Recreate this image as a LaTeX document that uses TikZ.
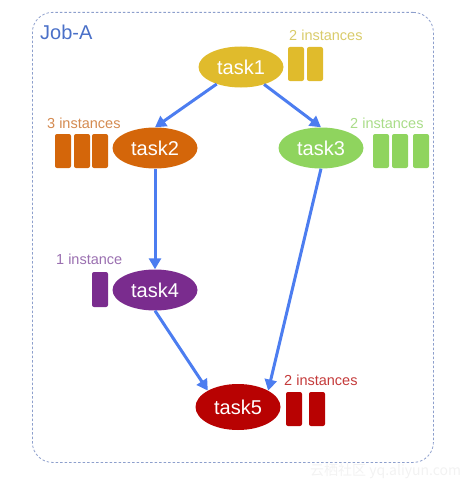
\documentclass[tikz,border=0pt]{standalone}
\usepackage{fontspec}
\setmainfont{Liberation Sans}
\newfontfamily\cjkfont{Noto Sans CJK SC}
\usetikzlibrary{arrows.meta,shapes.geometric}
\definecolor{jobblue}{HTML}{4A70C8}
\definecolor{boxline}{HTML}{8D9FCC}
\definecolor{edgeblue}{HTML}{4C7DF0}
\definecolor{cyel}{HTML}{E0BB2C}
\definecolor{lyel}{HTML}{D9CB6A}
\definecolor{corg}{HTML}{D4660A}
\definecolor{lorg}{HTML}{D48A50}
\definecolor{cgrn}{HTML}{8FD45E}
\definecolor{lgrn}{HTML}{A9DC88}
\definecolor{cpur}{HTML}{7A2C8E}
\definecolor{lpur}{HTML}{9A6FB0}
\definecolor{cred}{HTML}{B80202}
\definecolor{lred}{HTML}{C43A3A}
\tikzset{
  taskbox/.style={ellipse, minimum width=85pt, minimum height=41pt, inner sep=0pt, text=white, font=\fontsize{20}{20}\selectfont},
  inst/.style={rounded corners=2pt, minimum width=16pt, minimum height=34pt, inner sep=0pt},
  instlabel/.style={font=\fontsize{14.5}{14.5}\selectfont, inner sep=0pt},
  edge/.style={draw=edgeblue, line width=3pt, -{Triangle[length=11pt,width=12pt]}}
}
\begin{document}
\begin{tikzpicture}[x=1pt,y=-1pt]
\useasboundingbox (0,0) rectangle (476,487);
\node[draw=boxline, line width=0.8pt, dash pattern=on 2.5pt off 2pt, rounded corners=20pt, minimum width=401pt, minimum height=450pt, anchor=north west, inner sep=0pt] (job) at (32,12) {};
\node[anchor=west, text=jobblue, font=\fontsize{20}{20}\selectfont, inner sep=0pt] (jobA) at (40,32) {Job-A};

\node[taskbox, fill=cyel] (t1) at (241,67) {task1};
\node[taskbox, fill=corg] (t2) at (155,148) {task2};
\node[taskbox, fill=cgrn] (t3) at (321,148) {task3};
\node[taskbox, fill=cpur] (t4) at (155,290) {task4};
\node[taskbox, fill=cred, minimum height=46pt] (t5) at (238,407) {task5};

% instances
\node[inst, fill=cyel] (i1a) at (296,64) {};
\node[inst, fill=cyel] (i1b) at (315,64) {};
\node[instlabel, text=lyel, anchor=west] (l1) at (289,35) {2 instances};

\node[inst, fill=corg] (i2a) at (63,151) {};
\node[inst, fill=corg] (i2b) at (82,151) {};
\node[inst, fill=corg] (i2c) at (100,151) {};
\node[instlabel, text=lorg, anchor=west] (l2) at (47,123) {3 instances};

\node[inst, fill=cgrn] (i3a) at (381,151) {};
\node[inst, fill=cgrn] (i3b) at (400,151) {};
\node[inst, fill=cgrn] (i3c) at (421,151) {};
\node[instlabel, text=lgrn, anchor=west] (l3) at (350,123) {2 instances};

\node[inst, fill=cpur, minimum height=35pt] (i4a) at (100,289.5) {};
\node[instlabel, text=lpur, anchor=west] (l4) at (56,259) {1 instance};

\node[inst, fill=cred] (i5a) at (294,409) {};
\node[inst, fill=cred] (i5b) at (317,409) {};
\node[instlabel, text=lred, anchor=west] (l5) at (284,380) {2 instances};

% edges
\draw[edge] (t1) -- (t2.north);
\draw[edge] (t1) -- (t3.north);
\draw[edge] (t2) -- (t4);
\draw[edge] (t3.south) -- (t5.north east);
\draw[edge] (t4.south) -- (t5.north west);

\node[anchor=west, text=black!5, font=\cjkfont\fontsize{14}{14}\selectfont, inner sep=0pt] (wm) at (310,471) {云栖社区 yq.aliyun.com};
\end{tikzpicture}
\end{document}
